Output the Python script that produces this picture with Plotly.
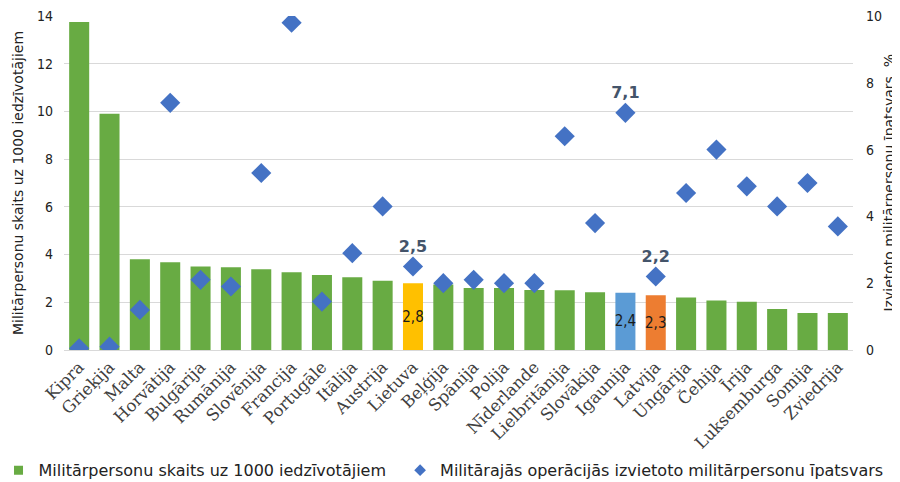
import plotly.graph_objects as go

countries = ["Kipra", "Grieķija", "Malta", "Horvātija", "Bulgārija", "Rumānija", "Slovēnija",
             "Francija", "Portugāle", "Itālija", "Austrija", "Lietuva", "Beļģija", "Spānija",
             "Polija", "Nīderlande", "Lielbritānija", "Slovākija", "Igaunija", "Latvija",
             "Ungārija", "Čehija", "Īrija", "Luksemburga", "Somija", "Zviedrija"]
personnel_per_1000 = [13.75, 9.9, 3.8, 3.68, 3.5, 3.47, 3.38, 3.26, 3.14, 3.05, 2.9, 2.8,
                      2.75, 2.6, 2.6, 2.52, 2.5, 2.42, 2.4, 2.3, 2.2, 2.07, 2.02, 1.72,
                      1.55, 1.55]
deployed_share = [0.05, 0.1, 1.2, 7.4, 2.1, 1.9, 5.3, 9.8, 1.45, 2.9, 4.3, 2.5, 2.0, 2.1,
                  2.0, 2.0, 6.4, 3.8, 7.1, 2.2, 4.7, 6.0, 4.9, 4.3, 5.0, 3.7]
highlight = {"Lietuva": "#FFC000", "Igaunija": "#5B9BD5", "Latvija": "#ED7D31"}

sans = "DejaVu Sans, sans-serif"
cond = "DejaVu Sans Condensed, DejaVu Sans, sans-serif"
serif = "DejaVu Serif, serif"

def fmt(v):
    return f"{v:.1f}".replace(".", ",")

bar_colors = [highlight.get(c, "#68AB43") for c in countries]
bar_text = [fmt(v) if c in highlight else "" for c, v in zip(countries, personnel_per_1000)]
dot_text = [fmt(v) if c in highlight else "" for c, v in zip(countries, deployed_share)]

fig = go.Figure()
fig.add_trace(go.Bar(
    x=countries, y=personnel_per_1000, name="Militārpersonu skaits uz 1000 iedzīvotājiem",
    marker=dict(color=bar_colors, line=dict(width=0)),
    text=bar_text, textposition="inside", insidetextanchor="middle", constraintext="none",
    textfont=dict(size=15, color="#1a1a1a", family=cond), textangle=0,
    showlegend=False,
))
fig.add_trace(go.Scatter(
    x=countries, y=deployed_share, yaxis="y2", mode="markers+text",
    marker=dict(symbol="diamond", size=15.5, color="#4472C4"),
    text=dot_text, textposition="top center",
    textfont=dict(size=16, color="#44546A", family=sans, weight="bold"),
    showlegend=False,
))
# legend entries (one legend each so they sit side by side)
fig.add_trace(go.Scatter(x=[None], y=[None], mode="markers", legend="legend",
                         name="Militārpersonu skaits uz 1000 iedzīvotājiem",
                         marker=dict(symbol="square", size=9, color="#68AB43")))
fig.add_trace(go.Scatter(x=[None], y=[None], mode="markers", legend="legend2",
                         name="Militārajās operācijās izvietoto militārpersonu īpatsvars",
                         marker=dict(symbol="diamond", size=9, color="#4472C4")))

legend_style = dict(orientation="h", y=-0.36, xanchor="left", yanchor="middle",
                    font=dict(size=16, color="#222222", family=sans), itemwidth=30,
                    bgcolor="rgba(0,0,0,0)")

# the page adds an 8px body margin, so margins are offset by that
fig.update_layout(
    width=900, height=482,
    margin=dict(l=56, r=55, t=8, b=140, autoexpand=False),
    plot_bgcolor="white", paper_bgcolor="white",
    font=dict(family=cond, size=14, color="#222222"),
    bargap=0.34,
    xaxis=dict(range=[-0.5, len(countries) - 0.5], tickangle=-45,
               tickfont=dict(size=16.5, color="#404040", family=serif),
               showgrid=False, showline=True, linecolor="#d9d9d9", ticks="",
               automargin=False),
    yaxis=dict(range=[0, 14], dtick=2, showgrid=True, gridcolor="#d9d9d9", zeroline=False,
               ticklabelstandoff=10, automargin=False, ticklabeloverflow="allow",
               title=dict(text="Militārpersonu skaits uz 1000 iedzīvotājiem",
                          font=dict(size=14, color="#222222", family=sans), standoff=10)),
    yaxis2=dict(range=[0, 10], dtick=2, overlaying="y", side="right", showgrid=False,
                zeroline=False, ticklabelstandoff=12, automargin=False,
                ticklabeloverflow="allow"),
    legend=dict(x=-0.083, **legend_style),
    legend2=dict(x=0.426, **legend_style),
)
fig.add_annotation(text="Izvietoto militārpersonu īpatsvars, %", xref="paper", yref="paper",
                   x=1.045, y=0.5, textangle=-90, showarrow=False,
                   font=dict(size=14, color="#222222", family=sans), xanchor="center")

fig.write_html("out.html")
